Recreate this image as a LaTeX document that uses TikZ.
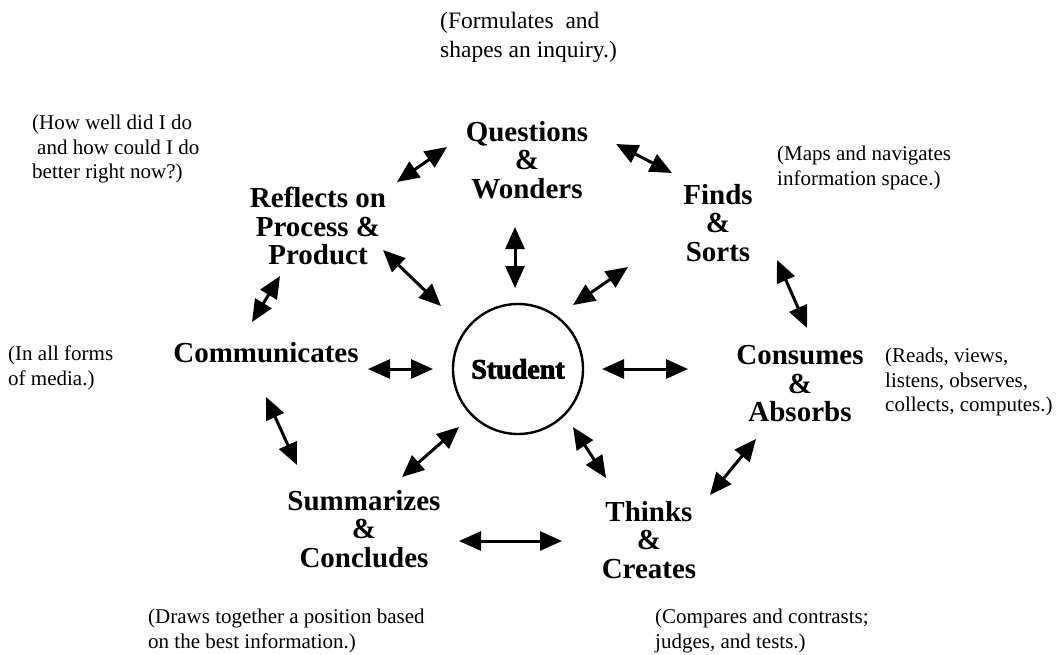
\documentclass[tikz,border=0pt]{standalone}
\usepackage{fontspec}
\setmainfont{Liberation Serif}
\newfontfamily\heavyfont[FakeBold=3]{Liberation Serif Bold}
\usetikzlibrary{arrows.meta}

\tikzset{
  stage/.style={align=center, inner sep=0pt,
    font=\bfseries\fontsize{29}{28.5}\selectfont},
  note/.style={align=left, inner sep=0pt, anchor=north west,
    font=\fontsize{21}{24.5}\selectfont},
  link/.style={line width=3pt,
    {Triangle[length=22pt,width=19pt]}-{Triangle[length=22pt,width=19pt]}},
}

\begin{document}
\begin{tikzpicture}[x=1pt,y=-1pt]
\useasboundingbox[fill=white] (0,0) rectangle (1058,654);

% central circle
\node[circle, draw, line width=2.4pt, minimum size=130pt, inner sep=0pt,
      font=\heavyfont\fontsize{28}{28}\selectfont] (student) at (518,369) {Student};

% the seven stages around the student
\node[stage] (questions) at (527,160) {Questions\\\&\\Wonders};
\node[stage] (finds)     at (718,223) {Finds\\\&\\Sorts};
\node[stage] (reflects)  at (318,226) {Reflects on\\Process \&\\Product};
\node[stage] (communicates) at (266,353) {Communicates};
\node[stage] (consumes)  at (800,384) {Consumes\\\&\\Absorbs};
\node[stage] (thinks)    at (649,540) {Thinks\\\&\\Creates};
\node[stage] (summarizes) at (364,529) {Summarizes\\\&\\Concludes};

% explanatory notes
\node[note, font=\fontsize{23.5}{29}\selectfont] (nq) at (440,12) {(Formulates\ \ and\\shapes an inquiry.)};
\node[note] (nr) at (32,115) {(How well did I do\\\hspace*{5pt}and how could I do\\better right now?)};
\node[note] (nf) at (777,146) {(Maps and navigates\\information space.)};
\node[note] (nm) at (8,346) {(In all forms\\of media.)};
\node[note] (nc) at (885,348) {(Reads, views,\\listens, observes,\\collects, computes.)};
\node[note] (ns) at (148,609) {(Draws together a position based\\on the best information.)};
\node[note] (nt) at (655,609) {(Compares and contrasts;\\judges, and tests.)};

% arrow end points
\coordinate (r-q) at (397,182);  \coordinate (q-r) at (447,147);
\coordinate (q-f) at (616,144);  \coordinate (f-q) at (672,173);
\coordinate (q-s) at (515,227);  \coordinate (s-q) at (515,288);
\coordinate (r-s) at (383,250);  \coordinate (s-r) at (441,306);
\coordinate (f-s) at (628,267);  \coordinate (s-f) at (573,305);
\coordinate (f-c) at (777,260);  \coordinate (c-f) at (807,328);
\coordinate (m-r) at (252,322);  \coordinate (r-m) at (280,276);
\coordinate (m-s) at (368,369);  \coordinate (s-m) at (433,369);
\coordinate (s-c) at (602,369);  \coordinate (c-s) at (688,369);
\coordinate (m-u) at (266,397);  \coordinate (u-m) at (297,465);
\coordinate (u-s) at (402,477);  \coordinate (s-u) at (459,427);
\coordinate (s-t) at (573,427);  \coordinate (t-s) at (606,478);
\coordinate (c-t) at (756,439);  \coordinate (t-c) at (710,495);
\coordinate (u-t) at (459,541);  \coordinate (t-u) at (562,541);

% double-headed connectors
\draw[link] (r-q) -- (q-r);
\draw[link] (q-f) -- (f-q);
\draw[link] (q-s) -- (s-q);
\draw[link] (r-s) -- (s-r);
\draw[link] (f-s) -- (s-f);
\draw[link] (f-c) -- (c-f);
\draw[link] (m-r) -- (r-m);
\draw[link] (m-s) -- (s-m);
\draw[link] (s-c) -- (c-s);
\draw[link] (m-u) -- (u-m);
\draw[link] (u-s) -- (s-u);
\draw[link] (s-t) -- (t-s);
\draw[link] (c-t) -- (t-c);
\draw[link] (u-t) -- (t-u);
\end{tikzpicture}
\end{document}
